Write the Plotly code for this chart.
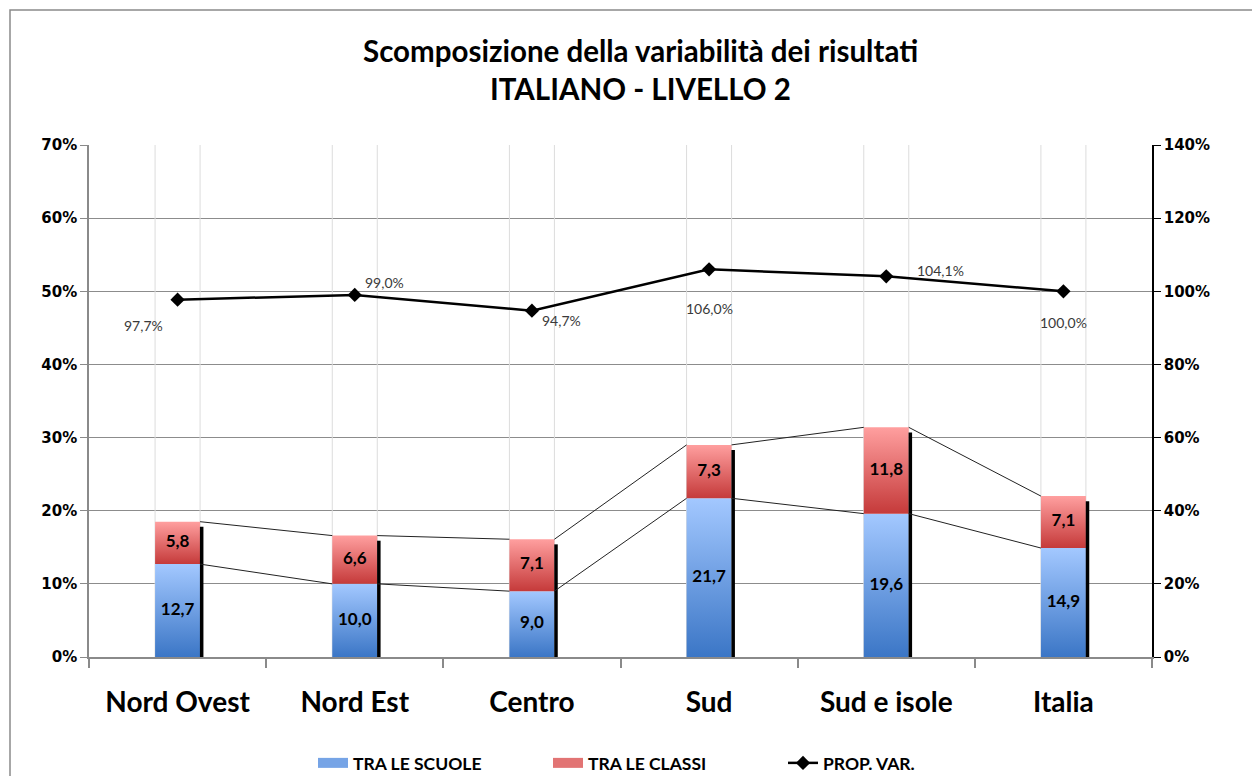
import plotly.graph_objects as go

# data
categories = ["Nord Ovest", "Nord Est", "Centro", "Sud", "Sud e isole", "Italia"]
tra_scuole = [12.7, 10.0, 9.0, 21.7, 19.6, 14.9]
tra_classi = [5.8, 6.6, 7.1, 7.3, 11.8, 7.1]
prop_var = [97.7, 99.0, 94.7, 106.0, 104.1, 100.0]

# style
OFF = 8                      # page body margin
W, H = 1252, 768
ML, MT = 89 - OFF, 145 - OFF
PW, PH = 1063, 512
MR, MB = W - ML - PW, H - MT - PH
HALF = 0.127                 # half bar width in category units
BLUE_SCALE = [[0, "#3b76c6"], [1, "#a3c8ff"]]
RED_SCALE = [[0, "#c53a3a"], [1, "#ff9f9f"]]
BLUE_LEG, RED_LEG = "#76a4e6", "#e27474"
FONT = "Lato"
TICKFONT = "DejaVu Sans"
# label offsets (px) for the PROP. VAR. annotations
lab_dx = [-34, 30, 30, 0, 54, 0]
lab_dy = [-26, 12, -10, -39, 6, -31]


def fmt(v):
    return f"{v:.1f}".replace(".", ",")


def px_x(px):
    # page pixel -> paper x
    return (px - OFF - ML) / PW


def px_y(py):
    # page pixel -> paper y
    return (MT + PH - (py - OFF)) / PH


fig = go.Figure()
idx = list(range(len(categories)))
totals = [a + b for a, b in zip(tra_scuole, tra_classi)]

# light vertical lines at bar edges
vx, vy = [], []
for i in idx:
    for e in (i - HALF, i + HALF):
        vx += [e, e, None]
        vy += [0, 70, None]
fig.add_trace(go.Scatter(x=vx, y=vy, mode="lines", line=dict(color="#dcdcdc", width=1),
                         showlegend=False, hoverinfo="skip"))

# stacked bars drawn as gradient-filled polygons
for name, scale, solid, base, vals in [
        ("TRA LE SCUOLE", BLUE_SCALE, BLUE_LEG, [0] * len(idx), tra_scuole),
        ("TRA LE CLASSI", RED_SCALE, RED_LEG, tra_scuole, tra_classi)]:
    for i in idx:
        y0, y1 = base[i], base[i] + vals[i]
        fig.add_trace(go.Scatter(
            x=[i - HALF, i + HALF, i + HALF, i - HALF, i - HALF],
            y=[y0, y0, y1, y1, y0],
            mode="lines", line=dict(width=0), fill="toself", fillcolor=solid,
            fillgradient=dict(type="vertical", colorscale=scale),
            name=name, legendgroup=name, showlegend=False, hoverinfo="skip"))
    # legend entry
    fig.add_trace(go.Scatter(x=[None], y=[None], mode="lines", name=name, legendgroup=name,
                             line=dict(color=solid, width=11)))

# shadow on right side of each bar
sx, sy = [], []
for i in idx:
    sx += [i + HALF + 0.009, i + HALF + 0.009, None]
    sy += [0, totals[i] - 0.7, None]
fig.add_trace(go.Scatter(x=sx, y=sy, mode="lines", line=dict(color="black", width=3.5),
                         showlegend=False, hoverinfo="skip"))

# series lines between bars
for level in (tra_scuole, totals):
    lx, ly = [], []
    for i in idx[:-1]:
        lx += [i + HALF, i + 1 - HALF, None]
        ly += [level[i], level[i + 1], None]
    fig.add_trace(go.Scatter(x=lx, y=ly, mode="lines", line=dict(color="#222", width=1),
                             showlegend=False, hoverinfo="skip"))

# bar value labels
lab_font = dict(family=FONT, size=17, color="black", weight="bold")
fig.add_trace(go.Scatter(x=idx, y=[v / 2 for v in tra_scuole], mode="text",
                         text=[fmt(v) for v in tra_scuole], textfont=lab_font,
                         showlegend=False, hoverinfo="skip"))
fig.add_trace(go.Scatter(x=idx, y=[a + b / 2 for a, b in zip(tra_scuole, tra_classi)], mode="text",
                         text=[fmt(v) for v in tra_classi], textfont=lab_font,
                         showlegend=False, hoverinfo="skip"))

# PROP. VAR. line on secondary axis
fig.add_trace(go.Scatter(x=idx, y=prop_var, yaxis="y2", mode="lines+markers", name="PROP. VAR.",
                         line=dict(color="black", width=2.5),
                         marker=dict(symbol="diamond", size=11, color="black"),
                         hoverinfo="skip"))

for i in idx:
    fig.add_annotation(x=i, y=prop_var[i], yref="y2", text=fmt(prop_var[i]) + "%",
                       showarrow=False, xshift=lab_dx[i], yshift=lab_dy[i],
                       font=dict(family=FONT, size=14, color="#3a3a3a"))

# title
for text, py in [("Scomposizione della variabilità dei risultati", 50),
                 ("ITALIANO - LIVELLO 2", 88)]:
    fig.add_annotation(xref="paper", yref="paper", x=px_x(640), y=px_y(py),
                       xanchor="center", yanchor="middle",
                       text=f"<b>{text}</b>", showarrow=False,
                       font=dict(family=FONT, size=29.5, color="black"))

# outer border
fig.add_shape(type="rect", xref="paper", yref="paper",
              x0=px_x(10), x1=px_x(1257), y0=px_y(800), y1=px_y(10),
              line=dict(color="#8a8a8a", width=1.5), layer="below")

fig.update_layout(
    width=W, height=H,
    margin=dict(l=ML, r=MR, t=MT, b=MB, autoexpand=False),
    plot_bgcolor="white", paper_bgcolor="white",
    xaxis=dict(range=[-0.5, len(categories) - 0.5], tickvals=idx, ticktext=categories,
               ticks="", showgrid=False, zeroline=False,
               showline=True, linecolor="#8a8a8a", linewidth=1.5,
               tickfont=dict(family=FONT, size=28, color="black", weight="bold"),
               ticklabelstandoff=20,
               minor=dict(tick0=0.5, dtick=1, ticks="outside", ticklen=9,
                          tickcolor="#8a8a8a", tickwidth=1.5, showgrid=False)),
    yaxis=dict(range=[0, 70], dtick=10, ticksuffix="%", showgrid=True, gridcolor="#8c8c8c",
               gridwidth=1, zeroline=False, showline=True, linecolor="#8a8a8a", linewidth=1.5,
               ticks="outside", ticklen=7, tickcolor="#8a8a8a",
               tickfont=dict(family=TICKFONT, size=15, color="black", weight="bold")),
    yaxis2=dict(range=[0, 140], dtick=20, ticksuffix="%", overlaying="y", side="right",
                showgrid=False, zeroline=False, showline=True, linecolor="black", linewidth=1.5,
                ticks="outside", ticklen=7, tickcolor="black",
                tickfont=dict(family=TICKFONT, size=15, color="black", weight="bold")),
    legend=dict(orientation="h", x=px_x(313), xanchor="left",
                y=px_y(763), yanchor="middle",
                entrywidth=190, entrywidthmode="pixels", traceorder="normal",
                font=dict(family=FONT, size=17.5, color="black", weight="bold"),
                bgcolor="rgba(0,0,0,0)"),
    showlegend=True,
)

fig.write_html("out.html")
